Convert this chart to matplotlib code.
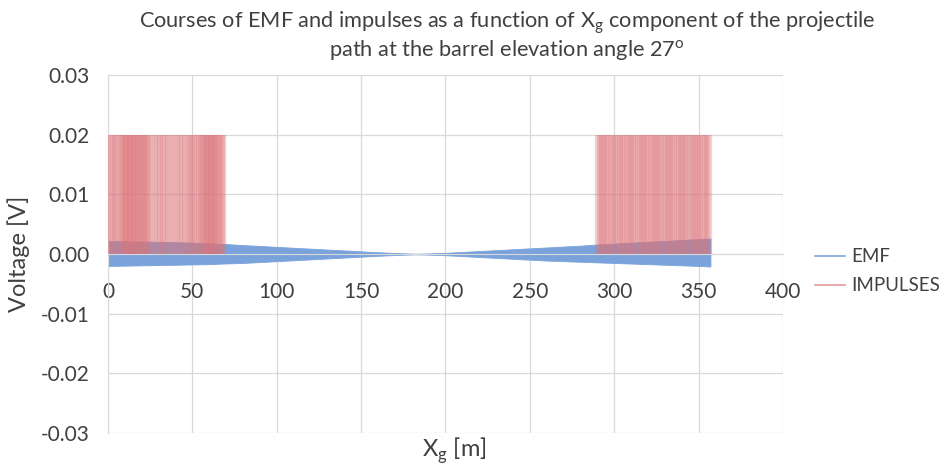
import matplotlib.pyplot as plt
from matplotlib.lines import Line2D
from matplotlib.ticker import MultipleLocator, FuncFormatter

plt.rcParams['font.family'] = ['Lato', 'DejaVu Sans']

# EMF band, envelope
emf_x = [0, 20, 40, 60, 68, 80, 100, 120, 140, 160, 175, 182, 190, 200, 220, 240, 260, 280, 290, 310, 330, 350, 357]
emf_upper = [0.0022, 0.0021, 0.0020, 0.0018, 0.0017, 0.0015, 0.0012, 0.0009, 0.0006, 0.0003, 0.00012, 0.00005,
             0.0001, 0.0002, 0.0005, 0.0008, 0.0011, 0.0014, 0.0016, 0.0019, 0.0022, 0.0025, 0.0026]
emf_lower = [-0.0020, -0.0019, -0.0018, -0.0017, -0.0016, -0.0015, -0.0012, -0.0009, -0.0006, -0.0003, -0.00012, -0.00005,
             -0.0001, -0.0002, -0.0005, -0.0008, -0.0011, -0.0013, -0.0014, -0.0016, -0.0018, -0.0020, -0.0021]

# impulse positions [m], height 0.02 V
imp_left = [0.3, 1.6, 3.0, 4.4, 5.6, 7.0, 8.2, 9.0, 9.8, 10.6, 11.5, 12.3, 13.0, 13.8, 14.7, 15.5, 16.3, 17.0,
            17.9, 18.8, 19.6, 20.5, 21.4, 22.3, 23.2, 24.5, 26.2, 28.0, 29.5, 30.8, 32.5, 34.0, 35.8, 37.5,
            39.0, 40.8, 42.5, 44.0, 45.8, 47.2, 48.5, 49.8, 51.0, 52.5, 54.0, 55.3, 56.2, 57.0, 57.8, 58.6,
            59.4, 60.2, 61.0, 61.8, 62.6, 63.4, 64.2, 65.0, 66.2, 67.4, 68.4]
imp_right = [290.2, 291.5, 292.9, 294.0, 295.4, 296.6, 298.1, 299.3, 300.6, 302.0, 303.2, 304.7, 305.9, 307.3,
             308.5, 309.8, 311.2, 312.4, 313.9, 315.0, 316.4, 317.7, 319.0, 320.3, 321.6, 322.8, 324.1, 325.5,
             326.7, 328.0, 329.3, 330.6, 331.9, 333.1, 334.5, 335.7, 337.0, 338.3, 339.6, 340.9, 342.1, 343.4,
             344.8, 346.0, 347.3, 348.6, 349.9, 351.1, 352.4, 353.7, 355.0, 356.3]
imp_height = 0.02

fig = plt.figure(figsize=(9.53, 4.66), dpi=100)
ax = fig.add_axes([0.1133, 0.0708, 0.7083, 0.7682])

ax.fill_between(emf_x, emf_lower, emf_upper, color='#7aa3db', lw=0.6, zorder=2)
ax.plot(emf_x, [0] * len(emf_x), color='#7f8fa6', lw=0.6, zorder=2)

ax.vlines(imp_left + imp_right, 0, imp_height, color='#dc7479', alpha=0.33, lw=4.6, zorder=3)

ax.set_xlim(0, 400)
ax.set_ylim(-0.03, 0.03)
ax.xaxis.set_major_locator(MultipleLocator(50))
ax.yaxis.set_major_locator(MultipleLocator(0.01))
ax.xaxis.set_major_formatter(FuncFormatter(lambda v, p: '%d' % v))
ax.yaxis.set_major_formatter(FuncFormatter(lambda v, p: '%.2f' % v if abs(v) > 1e-9 else '0.00'))
ax.grid(True, color='#d9d9d9', lw=0.9, zorder=0)
ax.set_axisbelow(True)

for s in ['top', 'right']:
    ax.spines[s].set_visible(False)
ax.spines['left'].set_color('#d9d9d9')
ax.spines['bottom'].set_position(('data', 0))
ax.spines['bottom'].set_color('#d9d9d9')
ax.tick_params(length=0, labelsize=15, colors='#404040')
ax.tick_params(axis='x', pad=20)
ax.tick_params(axis='y', pad=13)

ax.set_ylabel('Voltage [V]', fontsize=17, color='#404040', labelpad=8)
fig.text(0.477, 0.032, 'X$_\\mathregular{g}$ [m]', ha='center', va='center', fontsize=17, color='#404040')
fig.text(0.532, 0.952, 'Courses of EMF and impulses as a function of X$_\\mathregular{g}$ component of the projectile',
         ha='center', va='center', fontsize=15.7, color='#404040')
fig.text(0.532, 0.892, 'path at the barrel elevation angle 27$^\\mathregular{o}$',
         ha='center', va='center', fontsize=15.7, color='#404040')

handles = [Line2D([], [], color='#7ea6d9', lw=1.2), Line2D([], [], color='#e39a9c', lw=1.2)]
fig.legend(handles, ['EMF', 'IMPULSES'], loc='center left', bbox_to_anchor=(0.838, 0.418),
           frameon=False, fontsize=13.5, labelcolor='#404040', handlelength=1.6, handletextpad=0.3,
           labelspacing=0.65)

plt.savefig('out.png')
